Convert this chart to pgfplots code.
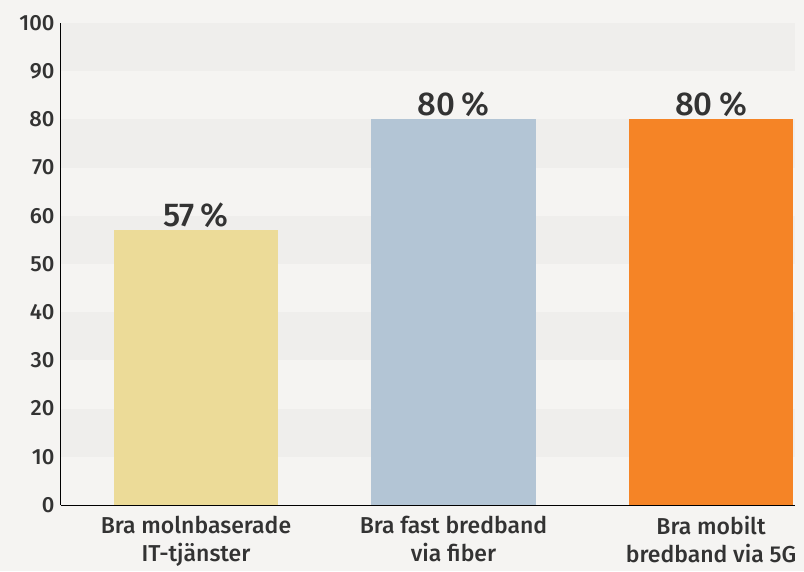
\documentclass[border=0pt]{standalone}
\usepackage{pgfplots}
\pgfplotsset{compat=1.18}
\usepackage{fontspec}
\setmainfont{Fira Sans}[BoldFont={Fira Sans Medium}]
\definecolor{bg}{HTML}{F5F4F2}
\definecolor{band}{HTML}{EFEEEC}
\definecolor{txt}{HTML}{333333}
\definecolor{cA}{HTML}{ECDB98}
\definecolor{cB}{HTML}{B3C5D5}
\definecolor{cC}{HTML}{F58426}
\begin{document}
\begin{tikzpicture}[x=1pt,y=1pt]
\fill[bg] (0,0) rectangle (804,571);
\useasboundingbox (0,0) rectangle (804,571);
\begin{axis}[
  at={(61pt,66pt)}, anchor=south west,
  scale only axis, width=734pt, height=482pt,
  xmin=-0.524, xmax=2.326, ymin=0, ymax=100,
  axis x line*=bottom, axis y line*=left,
  axis line style={black, line width=1pt, -},
  ytick={0,10,...,100},
  xtick={0,1,2},
  xticklabels={{Bra molnbaserade\\IT-tjänster},{Bra fast bredband\\via fiber},{Bra mobilt\\bredband via 5G}},
  xticklabel style={align=center, font=\fontsize{23}{28}\selectfont\bfseries, text=txt, yshift=-8pt},
  yticklabel style={font=\fontsize{22}{26}\selectfont\bfseries, text=txt, xshift=-3pt},
  /pgf/number format/assume math mode=true,
  major tick length=0pt, tick style={draw=none},
  ybar, bar width=164pt, bar shift=0pt,
  nodes near coords={\pgfmathprintnumber{\pgfplotspointmeta}\hspace{0.2em}\%},
  nodes near coords style={font=\fontsize{33}{40}\selectfont\bfseries, text=txt, yshift=-1pt},
]
\pgfplotsinvokeforeach{10,30,50,70,90}{
  \fill[band] (axis cs:-0.524,#1) rectangle (axis cs:2.326,#1+10);
}
\addplot[fill=cA, draw=none] coordinates {(0,57)};
\addplot[fill=cB, draw=none] coordinates {(1,80)};
\addplot[fill=cC, draw=none] coordinates {(2,80)};
\end{axis}
\end{tikzpicture}
\end{document}
